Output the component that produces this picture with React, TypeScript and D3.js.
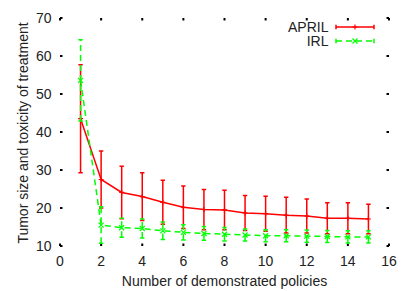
import { useMemo } from 'react'
import * as d3 from 'd3'

const xs = [1, 2, 3, 4, 5, 6, 7, 8, 9, 10, 11, 12, 13, 14, 15]

const aprilMean = [43.5, 27.5, 24.1, 23.0, 21.5, 20.2, 19.6, 19.5, 18.7, 18.5, 18.1, 17.9, 17.3, 17.3, 17.1]
const aprilErr = [14.2, 7.5, 6.9, 6.3, 5.8, 5.6, 5.3, 5.2, 4.6, 4.6, 4.7, 4.5, 4.1, 4.1, 3.9]

const irlMean = [53.6, 15.5, 14.8, 14.6, 14.0, 13.6, 13.3, 13.1, 12.9, 12.7, 12.7, 12.6, 12.5, 12.4, 12.4]
const irlErr = [10.7, 4.8, 2.5, 2.5, 2.3, 2.0, 1.8, 1.8, 1.6, 1.6, 1.6, 1.6, 1.6, 1.6, 1.6]

const xTicks = [0, 2, 4, 6, 8, 10, 12, 14, 16]
const yTicks = [10, 20, 30, 40, 50, 60, 70]

const RED = '#ff0000'
const GREEN = '#00ff00'
const FONT = 'Liberation Sans, Arial, sans-serif'

const W = 415
const H = 291
const margin = { left: 60, right: 26, top: 18, bottom: 45 }

type Series = { name: string; mean: number[]; err: number[]; color: string; dash?: string; marker: 'plus' | 'cross' }

const series: Series[] = [
  { name: 'APRIL', mean: aprilMean, err: aprilErr, color: RED, marker: 'plus' },
  { name: 'IRL', mean: irlMean, err: irlErr, color: GREEN, dash: '6,4', marker: 'cross' }
]

function Marker({ x, y, kind, color }: { x: number; y: number; kind: 'plus' | 'cross'; color: string }) {
  const s = 2.5
  return kind === 'plus' ? (
    <path d={`M${x - s},${y}H${x + s}M${x},${y - s}V${y + s}`} stroke={color} strokeWidth={1.2} />
  ) : (
    <path d={`M${x - s},${y - s}L${x + s},${y + s}M${x - s},${y + s}L${x + s},${y - s}`} stroke={color} strokeWidth={1.2} />
  )
}

export default function App() {
  const x = useMemo(() => d3.scaleLinear().domain([0, 16]).range([margin.left, W - margin.right]), [])
  const y = useMemo(() => d3.scaleLinear().domain([10, 70]).range([H - margin.bottom, margin.top]), [])

  const line = d3.line<number>()
    .x((_, i) => x(xs[i]))
    .y(d => y(d))

  const cap = 2.2

  return (
    <svg width={W} height={H} style={{ position: 'absolute', left: 0, top: 0, background: '#fff' }} fontFamily={FONT}>
      {/* tick marks on all four sides, no border */}
      {yTicks.map(t => (
        <g key={`yt-${t}`}>
          <line x1={x(0)} x2={x(0) + 2.5} y1={y(t)} y2={y(t)} stroke="#000" strokeWidth={2} />
          <line x1={x(16) - 2.5} x2={x(16)} y1={y(t)} y2={y(t)} stroke="#000" strokeWidth={2} />
          <text x={x(0) - 8.5} y={y(t) + 4.5} textAnchor="end" fontSize={14} fill="#222">{t}</text>
        </g>
      ))}
      {xTicks.map(t => (
        <g key={`xt-${t}`}>
          <line x1={x(t)} x2={x(t)} y1={y(10)} y2={y(10) - 2.5} stroke="#000" strokeWidth={2} />
          <line x1={x(t)} x2={x(t)} y1={y(70)} y2={y(70) + 2.5} stroke="#000" strokeWidth={2} />
          <text x={x(t)} y={y(10) + 19.5} textAnchor="middle" fontSize={14} fill="#222">{t}</text>
        </g>
      ))}

      <text x={(x(0) + x(16)) / 2} y={286} textAnchor="middle" fontSize={14} fill="#222">
        Number of demonstrated policies
      </text>
      <text transform={`translate(28,${(y(10) + y(70)) / 2 + 1}) rotate(-90)`} textAnchor="middle" fontSize={14} fill="#222">
        Tumor size and toxicity of treatment
      </text>

      {series.map(s => (
        <g key={s.name}>
          {s.mean.map((m, i) => {
            const cx = x(xs[i])
            const lo = y(m - s.err[i])
            const hi = y(m + s.err[i])
            return (
              <path
                key={i}
                d={`M${cx},${lo}V${hi}M${cx - cap},${lo}H${cx + cap}M${cx - cap},${hi}H${cx + cap}`}
                stroke={s.color}
                strokeWidth={1.5}
                strokeDasharray={s.dash}
                fill="none"
              />
            )
          })}
          <path d={line(s.mean) ?? ''} stroke={s.color} strokeWidth={1.5} strokeDasharray={s.dash} fill="none" />
          {s.mean.map((m, i) => (
            <Marker key={i} x={x(xs[i])} y={y(m)} kind={s.marker} color={s.color} />
          ))}
        </g>
      ))}

      {/* legend */}
      {series.map((s, i) => {
        const ly = 27 + i * 14
        const x1 = 336
        const x2 = 374
        return (
          <g key={`lg-${s.name}`}>
            <text x={328.5} y={ly + 5} textAnchor="end" fontSize={14} fill="#222">{s.name}</text>
            <path d={`M${x1},${ly}H${x2}`} stroke={s.color} strokeWidth={1.5} strokeDasharray={s.dash} />
            <path d={`M${x1},${ly - cap}V${ly + cap}M${x2},${ly - cap}V${ly + cap}`} stroke={s.color} strokeWidth={1.5} />
            <Marker x={(x1 + x2) / 2} y={ly} kind={s.marker} color={s.color} />
          </g>
        )
      })}
    </svg>
  )
}
